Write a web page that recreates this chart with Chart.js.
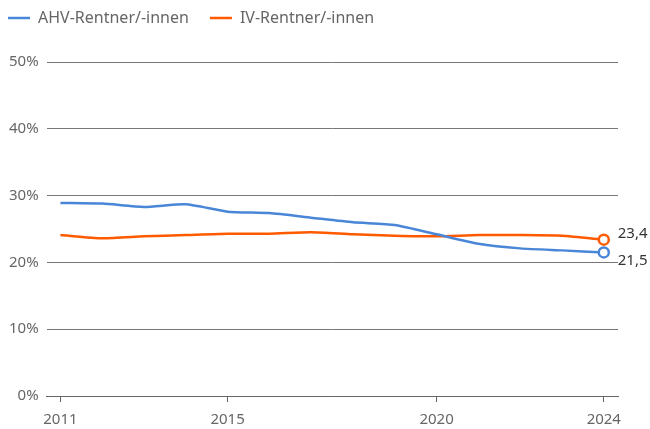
<!DOCTYPE html>
<html>
<head>
<meta charset="utf-8">
<script src="https://cdn.jsdelivr.net/npm/chart.js@4"></script>
<style>
  html, body { margin: 0; padding: 0; background: #fff; }
  .wrap { width: 650px; height: 429px; }
</style>
</head>
<body>
<div class="wrap"><canvas id="chart"></canvas></div>
<script>
const years = [2011, 2012, 2013, 2014, 2015, 2016, 2017, 2018, 2019, 2020, 2021, 2022, 2023, 2024];
const ahv = [28.9, 28.8, 28.3, 28.7, 27.6, 27.4, 26.7, 26.0, 25.6, 24.2, 22.8, 22.1, 21.8, 21.5];
const iv = [24.1, 23.6, 23.9, 24.1, 24.3, 24.3, 24.5, 24.2, 24.0, 23.9, 24.1, 24.1, 24.0, 23.4];
const xTicks = [2011, 2015, 2020, 2024];
const yTicks = [0, 10, 20, 30, 40, 50];

const blue = '#4a86d8';
const orange = '#ff5a00';
const last = years.length - 1;

const toPoints = vals => years.map((y, i) => ({ x: y, y: vals[i] }));

// value labels next to the final points
const endLabels = {
  id: 'endLabels',
  afterDatasetsDraw(chart) {
    const ctx = chart.ctx;
    ctx.save();
    ctx.font = '15px "Noto Sans"';
    ctx.fillStyle = '#333';
    ctx.textBaseline = 'middle';
    chart.data.datasets.forEach((ds, i) => {
      const pt = chart.getDatasetMeta(i).data[last];
      const txt = ds.data[last].y.toFixed(1).replace('.', ',');
      const dy = i === 0 ? 8 : -6;
      ctx.fillText(txt, pt.x + 14, pt.y + dy);
    });
    ctx.restore();
  }
};

// more room under the legend, legend pulled to the corner
const legendSpace = {
  id: 'legendSpace',
  beforeInit(chart) {
    const fit = chart.legend.fit;
    chart.legend.fit = function () {
      fit.bind(chart.legend)();
      this.height = 62;
    };
  },
  afterLayout(chart) {
    chart.legend.left = -13;
    chart.legend.top = -11;
  }
};

const lineDs = (label, vals, color) => ({
  label: label,
  data: toPoints(vals),
  borderColor: color,
  backgroundColor: color,
  borderWidth: 2.5,
  tension: 0.2,
  pointRadius: c => c.dataIndex === last ? 5 : 0,
  pointHoverRadius: 0,
  pointBackgroundColor: '#fff',
  pointBorderColor: color,
  pointBorderWidth: 2.5
});

new Chart(document.getElementById('chart'), {
  type: 'line',
  data: {
    datasets: [
      lineDs('AHV-Rentner/-innen', ahv, blue),
      lineDs('IV-Rentner/-innen', iv, orange)
    ]
  },
  options: {
    responsive: true,
    maintainAspectRatio: false,
    animation: false,
    layout: { padding: { left: 1, right: 32, top: 0, bottom: -9 } },
    plugins: {
      tooltip: { enabled: false },
      legend: {
        position: 'top',
        align: 'start',
        labels: {
          usePointStyle: true,
          pointStyle: 'line',
          pointStyleWidth: 22,
          padding: 21,
          color: '#666',
          font: { family: '"Noto Sans"', size: 16 }
        }
      }
    },
    scales: {
      x: {
        type: 'linear',
        min: 2010.67,
        max: 2024.34,
        afterBuildTicks: axis => { axis.ticks = xTicks.map(v => ({ value: v })); },
        ticks: {
          color: '#666',
          font: { family: '"Noto Sans"', size: 15 },
          padding: 9,
          maxRotation: 0,
          callback: v => String(v)
        },
        grid: { drawOnChartArea: false, drawTicks: true, tickLength: 6, color: '#666' },
        border: { display: true, color: '#666' }
      },
      y: {
        min: 0,
        max: 50,
        afterBuildTicks: axis => { axis.ticks = yTicks.map(v => ({ value: v })); },
        ticks: {
          color: '#666',
          font: { family: '"Noto Sans"', size: 15 },
          padding: 8,
          callback: v => v + '%'
        },
        grid: { color: '#777', drawTicks: false },
        border: { display: false }
      }
    }
  },
  plugins: [endLabels, legendSpace]
});
</script>
</body>
</html>
